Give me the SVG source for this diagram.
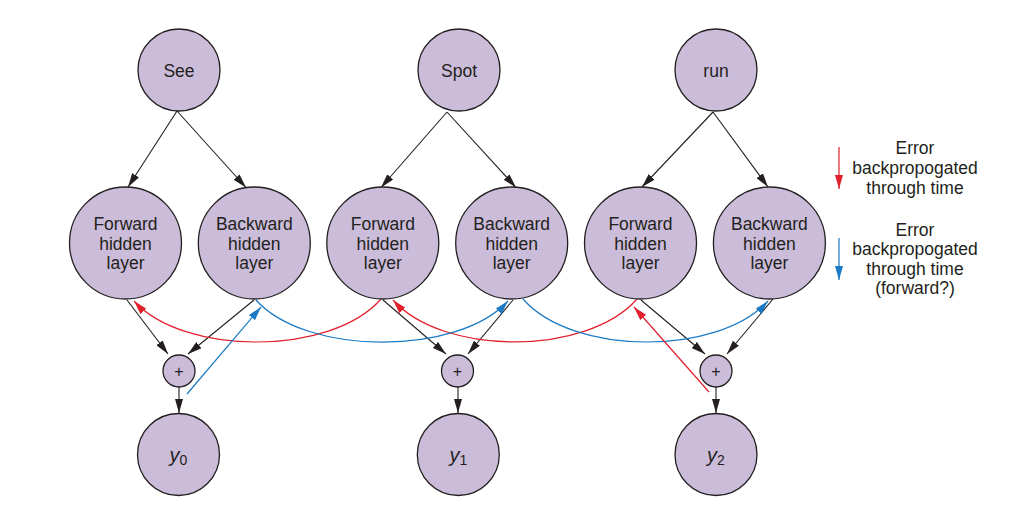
<svg xmlns="http://www.w3.org/2000/svg" width="1031" height="520" viewBox="0 0 1031 520">
<style>
.node{fill:#cbbcd9;stroke:#231f20;stroke-width:1.3}
.lbl{font-family:"Liberation Sans",Arial,sans-serif;font-size:17.5px;fill:#231f20;text-anchor:middle}
.ylbl{font-family:"Liberation Sans",Arial,sans-serif;font-size:20px;font-style:italic;fill:#231f20;text-anchor:middle}
.sub{font-size:14px;font-style:normal}
.blk{fill:none;stroke:#231f20;stroke-width:1.1;marker-end:url(#ab)}
.red{fill:none;stroke:#e2202c;stroke-width:1.2;marker-end:url(#ar)}
.blu{fill:none;stroke:#1a7ac4;stroke-width:1.2;marker-end:url(#au)}
</style>
<defs>
<marker id="ab" viewBox="0 0 14 8" refX="14" refY="4" markerWidth="14" markerHeight="8" markerUnits="userSpaceOnUse" orient="auto"><path d="M0,0 L14,4 L0,8 z" fill="#231f20"/></marker>
<marker id="ar" viewBox="0 0 14 8" refX="14" refY="4" markerWidth="14" markerHeight="8" markerUnits="userSpaceOnUse" orient="auto"><path d="M0,0 L14,4 L0,8 z" fill="#e2202c"/></marker>
<marker id="au" viewBox="0 0 14 8" refX="14" refY="4" markerWidth="14" markerHeight="8" markerUnits="userSpaceOnUse" orient="auto"><path d="M0,0 L14,4 L0,8 z" fill="#1a7ac4"/></marker>
</defs>
<rect width="1031" height="520" fill="#ffffff"/>

<g id="connectors">
<path class="blk" d="M177,111 L128,187"/>
<path class="blk" d="M177,111 L246,187.5"/>
<path class="blk" d="M447,112 L381,187.5"/>
<path class="blk" d="M447,112 L516,187.5"/>
<path class="blk" d="M713,112 L642,187"/>
<path class="blk" d="M713,112 L768,187"/>
<path class="blk" d="M127,300 L168,354"/>
<path class="blk" d="M254,300 L188,354"/>
<path class="blk" d="M383,300 L446,354"/>
<path class="blk" d="M513,300 L468,354"/>
<path class="blk" d="M641,300 L705,354"/>
<path class="blk" d="M773,299 L727,354"/>
<path class="blk" d="M179,387 L179,413"/>
<path class="blk" d="M458,387 L458,413"/>
<path class="blk" d="M716,387 L716,413"/>
<path class="red" d="M381,299 C331,356 184,356 134,301"/>
<path class="red" d="M637,299 C587,356 443,356 393,300"/>
<path class="blu" d="M256,300 C306,356 458,356 508,301"/>
<path class="blu" d="M523,299 C573,356 718,356 768,301"/>
<path class="blu" d="M187,394 L261,307"/>
<path class="red" d="M709,392 L634,307"/>
</g>

<g id="see"><circle class="node" cx="179" cy="70" r="41"/><text class="lbl" x="179" y="76.5">See</text></g>
<g id="spot"><circle class="node" cx="459" cy="70" r="41"/><text class="lbl" x="459" y="76.5">Spot</text></g>
<g id="run"><circle class="node" cx="716" cy="70" r="41"/><text class="lbl" x="716" y="76.5">run</text></g>

<g id="fwd0"><circle class="node" cx="125.5" cy="243" r="56"/><text class="lbl" x="125.5" y="230">Forward</text><text class="lbl" x="125.5" y="249.5">hidden</text><text class="lbl" x="125.5" y="269">layer</text></g>
<g id="bwd0"><circle class="node" cx="254.3" cy="243" r="56"/><text class="lbl" x="254.3" y="230">Backward</text><text class="lbl" x="254.3" y="249.5">hidden</text><text class="lbl" x="254.3" y="269">layer</text></g>
<g id="fwd1"><circle class="node" cx="382.8" cy="243" r="56"/><text class="lbl" x="382.8" y="230">Forward</text><text class="lbl" x="382.8" y="249.5">hidden</text><text class="lbl" x="382.8" y="269">layer</text></g>
<g id="bwd1"><circle class="node" cx="511.7" cy="243" r="56"/><text class="lbl" x="511.7" y="230">Backward</text><text class="lbl" x="511.7" y="249.5">hidden</text><text class="lbl" x="511.7" y="269">layer</text></g>
<g id="fwd2"><circle class="node" cx="640.5" cy="243" r="56"/><text class="lbl" x="640.5" y="230">Forward</text><text class="lbl" x="640.5" y="249.5">hidden</text><text class="lbl" x="640.5" y="269">layer</text></g>
<g id="bwd2"><circle class="node" cx="769.4" cy="243" r="56"/><text class="lbl" x="769.4" y="230">Backward</text><text class="lbl" x="769.4" y="249.5">hidden</text><text class="lbl" x="769.4" y="269">layer</text></g>

<g id="plus0"><circle class="node" cx="179" cy="371" r="16"/><text class="lbl" x="179" y="377" style="font-size:16px">+</text></g>
<g id="plus1"><circle class="node" cx="457.5" cy="371" r="16"/><text class="lbl" x="457.5" y="377" style="font-size:16px">+</text></g>
<g id="plus2"><circle class="node" cx="716" cy="371" r="16"/><text class="lbl" x="716" y="377" style="font-size:16px">+</text></g>

<g id="y0"><circle class="node" cx="178.5" cy="454.5" r="41"/><text class="ylbl" x="178.5" y="462">y<tspan class="sub" dy="3">0</tspan></text></g>
<g id="y1"><circle class="node" cx="458.3" cy="454.5" r="41"/><text class="ylbl" x="458.3" y="462">y<tspan class="sub" dy="3">1</tspan></text></g>
<g id="y2"><circle class="node" cx="716" cy="454.5" r="41"/><text class="ylbl" x="716" y="462">y<tspan class="sub" dy="3">2</tspan></text></g>

<g id="legend">
<path class="red" d="M839,147 L839,189"/>
<text class="lbl" x="915" y="154">Error</text>
<text class="lbl" x="915" y="173.5">backpropogated</text>
<text class="lbl" x="915" y="193.5">through time</text>
<path class="blu" d="M839,238 L839,280"/>
<text class="lbl" x="915" y="236">Error</text>
<text class="lbl" x="915" y="255">backpropogated</text>
<text class="lbl" x="915" y="274.5">through time</text>
<text class="lbl" x="915" y="294">(forward?)</text>
</g>
</svg>
